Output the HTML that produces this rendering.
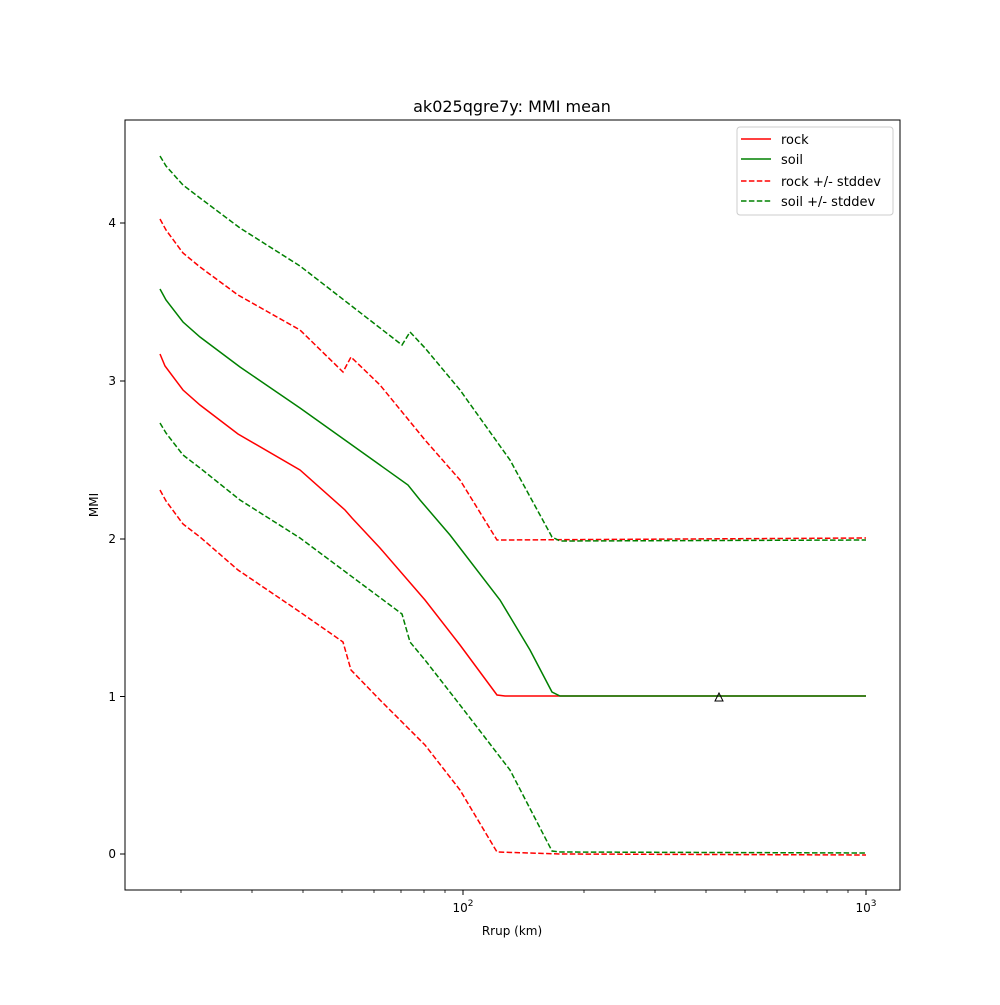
<!DOCTYPE html>
<html><head><style>body{margin:0;background:#fff}</style></head><body>
<svg width="1000" height="1000" xmlns="http://www.w3.org/2000/svg" font-family="DejaVu Sans, Liberation Sans, sans-serif">
<rect width="1000" height="1000" fill="#fff"/>
<text x="512" y="112" font-size="16" text-anchor="middle">ak025qgre7y: MMI mean</text>
<g fill="none" stroke-width="1.5">
<polyline stroke="#ff0000" points="160,354 165,366 183,390 200,405 238,434 300,470 345,510 352,518 380,548 425,600 460,645 497,695 505,696 866,696"/>
<polyline stroke="#008000" points="160,289 166,300 183,322 200,337 240,367 300,408 408,485 420,500 450,535 500,600 530,650 552,692 560,696 866,696"/>
<g stroke-dasharray="5.5,2.4">
<polyline stroke="#ff0000" points="160,219 166,230 183,253 200,267 238,295 300,330 343,372 351,357 380,385 425,440 460,480 497,540 505,540 866,538"/>
<polyline stroke="#ff0000" points="160,490 166,501 183,524 200,537 238,570 300,612 343,642 351,670 380,700 425,745 460,790 497,852 560,854 866,855"/>
<polyline stroke="#008000" points="160,156 166,166 183,185 200,198 240,228 300,266 402,345 410,332 425,348 460,390 510,460 552,537 560,541 866,540"/>
<polyline stroke="#008000" points="160,423 166,433 183,455 200,468 240,500 300,538 402,614 410,642 425,660 460,705 510,770 552,851 560,852 866,853"/>
</g>
</g>
<polygon points="719,693 715,701 723,701" fill="none" stroke="#000" stroke-width="1"/>
<rect x="125" y="120" width="775" height="770" fill="none" stroke="#000" stroke-width="1"/>
<g stroke="#000" stroke-width="1">
<line x1="463" y1="890" x2="463" y2="895"/><line x1="866" y1="890" x2="866" y2="895"/>
<g stroke-width="0.8">
<line x1="181" y1="890" x2="181" y2="893"/><line x1="252" y1="890" x2="252" y2="893"/><line x1="303" y1="890" x2="303" y2="893"/><line x1="342" y1="890" x2="342" y2="893"/><line x1="374" y1="890" x2="374" y2="893"/><line x1="401" y1="890" x2="401" y2="893"/><line x1="424" y1="890" x2="424" y2="893"/><line x1="445" y1="890" x2="445" y2="893"/>
<line x1="584" y1="890" x2="584" y2="893"/><line x1="655" y1="890" x2="655" y2="893"/><line x1="706" y1="890" x2="706" y2="893"/><line x1="745" y1="890" x2="745" y2="893"/><line x1="777" y1="890" x2="777" y2="893"/><line x1="804" y1="890" x2="804" y2="893"/><line x1="827" y1="890" x2="827" y2="893"/><line x1="848" y1="890" x2="848" y2="893"/>
</g>
<line x1="120" y1="854" x2="125" y2="854"/><line x1="120" y1="696.5" x2="125" y2="696.5"/><line x1="120" y1="539" x2="125" y2="539"/><line x1="120" y1="381" x2="125" y2="381"/><line x1="120" y1="223" x2="125" y2="223"/>
</g>
<g font-size="12" fill="#000">
<text x="463" y="912" text-anchor="middle">10<tspan font-size="9" dy="-6">2</tspan></text>
<text x="866" y="912" text-anchor="middle">10<tspan font-size="9" dy="-6">3</tspan></text>
<text x="116" y="858" text-anchor="end">0</text>
<text x="116" y="701" text-anchor="end">1</text>
<text x="116" y="543" text-anchor="end">2</text>
<text x="116" y="385" text-anchor="end">3</text>
<text x="116" y="227" text-anchor="end">4</text>
<text x="512" y="935" text-anchor="middle">Rrup (km)</text>
<text x="98" y="505" text-anchor="middle" transform="rotate(-90 98 505)">MMI</text>
</g>
<rect x="737" y="127" width="156" height="88" rx="3" fill="#fff" stroke="#ccc"/>
<g stroke-width="1.5">
<line x1="741" y1="139" x2="771" y2="139" stroke="#ff0000"/>
<line x1="741" y1="159" x2="771" y2="159" stroke="#008000"/>
<line x1="741" y1="181" x2="771" y2="181" stroke="#ff0000" stroke-dasharray="5.5,2.4"/>
<line x1="741" y1="201" x2="771" y2="201" stroke="#008000" stroke-dasharray="5.5,2.4"/>
</g>
<g font-size="13">
<text x="781" y="144">rock</text>
<text x="781" y="164">soil</text>
<text x="781" y="186">rock +/- stddev</text>
<text x="781" y="206">soil +/- stddev</text>
</g>
</svg>
</body></html>
